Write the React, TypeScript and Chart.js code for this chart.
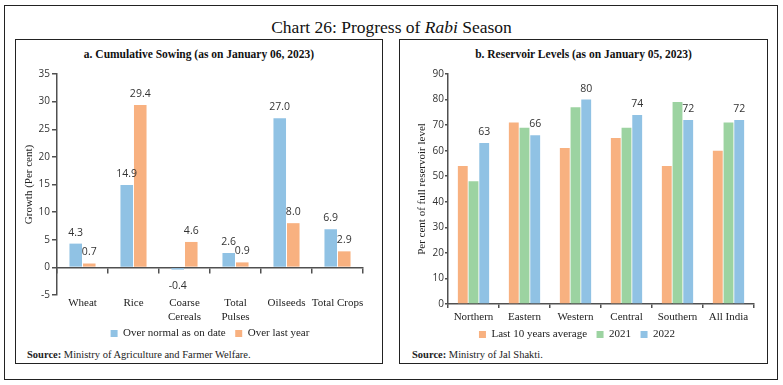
import React, { useEffect, useRef } from 'react';
import { Chart, registerables } from 'chart.js';

Chart.register(...registerables);

// ---- Data: panel a ----
const cropCategories: (string | string[])[] = ['Wheat', 'Rice', ['Coarse', 'Cereals'], ['Total', 'Pulses'], 'Oilseeds', 'Total Crops'];
const overNormal = [4.3, 14.9, -0.4, 2.6, 27.0, 6.9];
const overLastYear = [0.7, 29.4, 4.6, 0.9, 8.0, 2.9];
const sowingMin = -5;
const sowingMax = 35;
const sowingStep = 5;

// ---- Data: panel b ----
const regions = ['Northern', 'Eastern', 'Western', 'Central', 'Southern', 'All India'];
const last10Avg = [54, 71, 61, 65, 54, 60];
const level2021 = [48, 69, 77, 69, 79, 71];
const level2022 = [63, 66, 80, 74, 72, 72];
const levelMin = 0;
const levelMax = 90;
const levelStep = 10;

const BLUE = '#90c2e4';
const ORANGE = '#f8b180';
const GREEN = '#9cd3a1';
const SERIF = "'Liberation Serif', 'DejaVu Serif', serif";
const SANS = "'Open Sans', 'DejaVu Sans', sans-serif";
const AXIS = '#505050';
const TXT = '#333333';

const valueLabels = {
  id: 'valueLabels',
  afterDatasetsDraw(chart: any) {
    const ctx = chart.ctx;
    ctx.save();
    ctx.font = `10.5px ${SANS}`;
    ctx.fillStyle = TXT;
    ctx.textAlign = 'center';
    ctx.textBaseline = 'middle';
    chart.data.datasets.forEach((ds: any, i: number) => {
      if (ds.labelDigits === undefined) return;
      const meta = chart.getDatasetMeta(i);
      meta.data.forEach((el: any, j: number) => {
        const v = ds.data[j] as number;
        const y = v >= 0 ? el.y - 11 : el.y + 16;
        ctx.fillText(v.toFixed(ds.labelDigits), el.x, y);
      });
    });
    ctx.restore();
  },
};

const legendLabels = {
  boxWidth: 7,
  boxHeight: 7,
  padding: 4,
  color: '#222',
  font: { family: SERIF, size: 11 },
  generateLabels: (chart: any) => {
    const items = Chart.defaults.plugins.legend.labels.generateLabels(chart);
    return items.map((it: any, i: number) => ({
      ...it,
      lineWidth: 0,
      text: i < items.length - 1 ? it.text + '  ' : it.text,
    }));
  },
};

function SowingChart() {
  const ref = useRef<HTMLCanvasElement>(null);
  useEffect(() => {
    const chart = new Chart(ref.current!, {
      type: 'bar',
      data: {
        labels: cropCategories as any,
        datasets: [
          { label: 'Over normal as on date', data: overNormal, backgroundColor: BLUE, categoryPercentage: 0.53, barPercentage: 0.93, labelDigits: 1 } as any,
          { label: 'Over last year', data: overLastYear, backgroundColor: ORANGE, categoryPercentage: 0.53, barPercentage: 0.93, labelDigits: 1 } as any,
        ],
      },
      options: {
        responsive: false,
        animation: false,
        layout: { padding: { top: 14, right: 20, left: 0, bottom: 0 } },
        plugins: {
          tooltip: { enabled: false },
          legend: { position: 'bottom', fullSize: false, labels: legendLabels },
        },
        scales: {
          x: {
            type: 'category',
            position: 'bottom',
            grid: { display: false, drawTicks: false },
            border: { display: false },
            ticks: { color: '#222', font: { family: SERIF, size: 11 }, padding: 2, maxRotation: 0, autoSkip: false },
            afterFit: (s: any) => { s.height = 29; },
          },
          x2: {
            type: 'category',
            axis: 'x',
            position: { y: 0 },
            offset: true,
            grid: { drawOnChartArea: false, tickLength: 5, color: AXIS, lineWidth: 1.5, offset: true },
            border: { color: AXIS, width: 1.5 },
            ticks: { display: false },
          } as any,
          y: {
            min: sowingMin,
            max: sowingMax,
            ticks: { stepSize: sowingStep, color: TXT, font: { family: SANS, size: 10 }, padding: 2 },
            grid: { drawOnChartArea: false, tickLength: 5, color: AXIS, lineWidth: 1.5 },
            border: { color: AXIS, width: 1.5 },
            title: { display: true, text: 'Growth (Per cent)', color: '#222', font: { family: SERIF, size: 11 }, padding: { top: 8, bottom: 0 } },
            afterFit: (s: any) => { s.width = 42; },
          },
        },
      } as any,
      plugins: [valueLabels],
    });
    return () => chart.destroy();
  }, []);
  return <canvas ref={ref} width={368} height={289} style={{ position: 'absolute', left: 15, top: 60, width: 368, height: 289 }} />;
}

function ReservoirChart() {
  const ref = useRef<HTMLCanvasElement>(null);
  useEffect(() => {
    const chart = new Chart(ref.current!, {
      type: 'bar',
      data: {
        labels: regions,
        datasets: [
          { label: 'Last 10 years average', data: last10Avg, backgroundColor: ORANGE, categoryPercentage: 0.63, barPercentage: 0.92 } as any,
          { label: '2021', data: level2021, backgroundColor: GREEN, categoryPercentage: 0.63, barPercentage: 0.92 } as any,
          { label: '2022', data: level2022, backgroundColor: BLUE, categoryPercentage: 0.63, barPercentage: 0.92, labelDigits: 0 } as any,
        ],
      },
      options: {
        responsive: false,
        animation: false,
        layout: { padding: { top: 13, right: 15, left: 0, bottom: 0 } },
        plugins: {
          tooltip: { enabled: false },
          legend: { position: 'bottom', labels: legendLabels },
        },
        scales: {
          x: {
            type: 'category',
            grid: { drawOnChartArea: false, tickLength: 4, color: AXIS, lineWidth: 1.5, offset: true },
            border: { color: AXIS, width: 1.5 },
            ticks: { color: '#222', font: { family: SERIF, size: 11 }, padding: 3, maxRotation: 0, autoSkip: false },
            afterFit: (s: any) => { s.height = 21; },
          },
          y: {
            min: levelMin,
            max: levelMax,
            ticks: { stepSize: levelStep, color: TXT, font: { family: SANS, size: 10 }, padding: 1 },
            grid: { drawOnChartArea: false, tickLength: 3, color: AXIS, lineWidth: 1.5 },
            border: { color: AXIS, width: 1.5 },
            title: { display: true, text: 'Per cent of full reservoir level', color: '#222', font: { family: SERIF, size: 11 }, padding: { top: 16, bottom: 0 } },
            afterFit: (s: any) => { s.width = 48; },
          },
        },
      } as any,
      plugins: [valueLabels],
    });
    return () => chart.destroy();
  }, []);
  return <canvas ref={ref} width={369} height={289} style={{ position: 'absolute', left: 0, top: 21, width: 369, height: 289 }} />;
}

const panelStyle: React.CSSProperties = {
  position: 'absolute',
  top: 39,
  height: 325,
  boxSizing: 'border-box',
  border: '1px solid #222',
  background: '#fff',
};

const panelTitle: React.CSSProperties = {
  position: 'absolute',
  left: 0,
  right: 0,
  top: 6,
  textAlign: 'center',
  fontFamily: SERIF,
  fontWeight: 'bold',
  fontSize: 11.5,
  lineHeight: '16px',
  color: '#111',
};

const sourceStyle: React.CSSProperties = {
  position: 'absolute',
  top: 308,
  fontFamily: SERIF,
  fontSize: 10.5,
  lineHeight: '14px',
  color: '#222',
  whiteSpace: 'nowrap',
};

export default function App() {
  return (
    <div style={{ position: 'absolute', left: 0, top: 0, width: 783, height: 385, background: '#fff', overflow: 'hidden' }}>
      <div style={{ position: 'absolute', left: 4, top: 5, width: 774, height: 375, boxSizing: 'border-box', border: '1.5px solid #222' }} />
      <div style={{ position: 'absolute', left: 0, width: 783, top: 16, textAlign: 'center', fontFamily: SERIF, fontSize: 17.5, lineHeight: '22px', color: '#111' }}>
        Chart 26: Progress of <i>Rabi</i> Season
      </div>
      <div style={{ ...panelStyle, left: 15, width: 368 }}>
        <div style={panelTitle}>a. Cumulative Sowing (as on January 06, 2023)</div>
        <div style={{ ...sourceStyle, left: 11 }}><b>Source:</b> Ministry of Agriculture and Farmer Welfare.</div>
      </div>
      <SowingChart />
      <div style={{ ...panelStyle, left: 399, width: 369 }}>
        <div style={panelTitle}>b. Reservoir Levels (as on January 05, 2023)</div>
        <div style={{ ...sourceStyle, left: 12 }}><b>Source:</b> Ministry of Jal Shakti.</div>
        <ReservoirChart />
      </div>
    </div>
  );
}
